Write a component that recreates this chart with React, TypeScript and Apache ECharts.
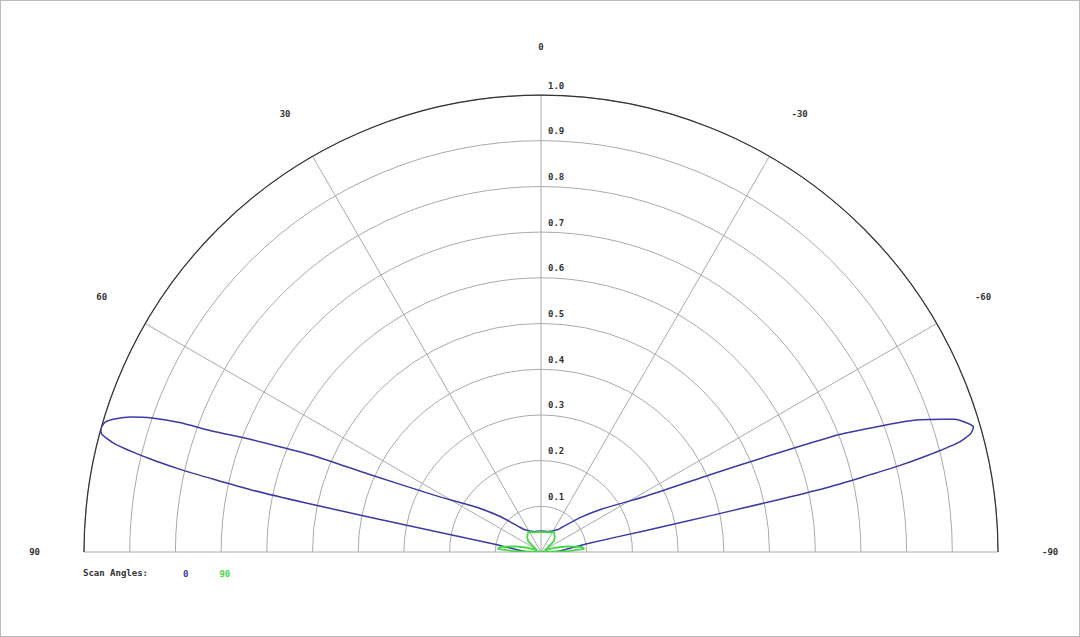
import { useEffect, useRef } from "react"
import * as echarts from "echarts"

// scan angle names (legend)
const scanNames = ["0", "90"]
const scanColors = ["#3a3aa6", "#44d844"]

// pattern for scan angle 0: angle (deg, +left) and relative gain
const scan0Angles = [
  90, 85, 80.3, 79, 78.5, 78.2, 77.9, 77.5, 77.1, 76.6, 75.8, 75, 74.4, 73.4, 72.6, 71.8, 71, 70.3,
  69.8, 68.9, 68, 67, 65.7, 62, 55, 48.8, 40, 36, 20, 0,
  -20, -36, -40, -48.8, -55, -62, -65.5, -67, -68.5, -69.9, -70.6, -71.2, -72.2, -73.2, -73.9,
  -74.6, -75.3, -76, -76.5, -76.9, -77.3, -77.6, -77.9, -78.4, -79.8, -85, -90,
]
const scan0Gain = [
  0.03, 0.05, 0.105, 0.24, 0.39, 0.53, 0.65, 0.73, 0.81, 0.88, 0.96, 0.995, 1.0, 0.995, 0.975, 0.945, 0.9, 0.84,
  0.765, 0.69, 0.612, 0.535, 0.415, 0.265, 0.17, 0.117, 0.07, 0.06, 0.048, 0.046,
  0.048, 0.06, 0.07, 0.115, 0.165, 0.26, 0.41, 0.53, 0.7, 0.815, 0.87, 0.9, 0.95, 0.975, 0.985,
  0.975, 0.945, 0.87, 0.8, 0.72, 0.64, 0.52, 0.385, 0.235, 0.1, 0.05, 0.03,
]

// pattern for scan angle 90
const scan90Angles = [
  90, 88, 86, 83, 78, 72, 65, 58, 50, 42, 33, 20, 0,
  -20, -33, -42, -50, -58, -65, -72, -78, -83, -86, -88, -90,
]
const scan90Gain = [
  0, 0.06, 0.095, 0.09, 0.06, 0.03, 0.01, 0.015, 0.037, 0.045, 0.052, 0.046, 0.044,
  0.046, 0.052, 0.045, 0.037, 0.015, 0.01, 0.03, 0.06, 0.09, 0.095, 0.06, 0,
]

const angleMin = -90
const angleMax = 90
const angleStep = 30
const radiusMax = 1
const radiusStep = 0.1

export default function App() {
  const chartRef = useRef<HTMLDivElement>(null)

  useEffect(() => {
    if (!chartRef.current) return
    const chart = echarts.init(chartRef.current, undefined, { renderer: "svg" })

    const font = {
      fontFamily: "'DejaVu Sans Mono', 'Liberation Mono', monospace",
      fontSize: 9,
      fontWeight: "bold" as const,
      color: "#333",
    }
    const center = [540, 551]
    const radius = 457

    const toPairs = (angles: number[], gain: number[]) => angles.map((a, i) => [gain[i], a])

    chart.setOption({
      animation: false,
      backgroundColor: "#fff",
      polar: [
        { center, radius },
        { center, radius },
      ],
      angleAxis: [
        {
          polarIndex: 0,
          type: "value",
          min: angleMin,
          max: angleMax,
          interval: angleStep,
          startAngle: 0,
          endAngle: 180,
          clockwise: false,
          axisLine: { lineStyle: { color: "#333", width: 1.2 } },
          axisTick: { show: false },
          axisLabel: { ...font, margin: 44 },
          splitLine: { lineStyle: { color: "#aaa", width: 1 } },
        },
        {
          polarIndex: 1,
          type: "value",
          min: 0,
          max: 360,
          startAngle: 90,
          axisLine: { show: false },
          axisTick: { show: false },
          axisLabel: { show: false },
          splitLine: { show: false },
        },
      ],
      radiusAxis: [
        {
          polarIndex: 0,
          min: 0,
          max: radiusMax,
          interval: radiusStep,
          axisLine: { show: false },
          axisTick: { show: false },
          axisLabel: { show: false },
          splitLine: { lineStyle: { color: "#aaa", width: 1 } },
        },
        {
          polarIndex: 1,
          min: 0,
          max: radiusMax,
          interval: radiusStep,
          axisLine: { show: false },
          axisTick: { show: false },
          splitLine: { show: false },
          axisLabel: {
            ...font,
            showMinLabel: false,
            formatter: (v: number) => v.toFixed(1),
            align: "left",
            verticalAlign: "bottom",
            margin: -7,
            padding: [0, 0, 5, 0],
          },
        },
      ],
      legend: {
        left: 172,
        top: 563,
        icon: "none",
        itemWidth: 0,
        itemHeight: 0,
        itemGap: 26,
        textStyle: font,
        data: scanNames.map((n, i) => ({ name: n, textStyle: { color: scanColors[i] } })),
      },
      graphic: [
        {
          type: "text",
          left: 82,
          top: 567,
          style: { text: "Scan Angles:", ...font, fill: "#333", font: undefined },
        },
      ],
      series: [
        {
          name: scanNames[0],
          type: "line",
          coordinateSystem: "polar",
          polarIndex: 0,
          showSymbol: false,
          smooth: 0.2,
          lineStyle: { color: scanColors[0], width: 1.5 },
          itemStyle: { color: scanColors[0] },
          data: toPairs(scan0Angles, scan0Gain),
        },
        {
          name: scanNames[1],
          type: "line",
          coordinateSystem: "polar",
          polarIndex: 0,
          showSymbol: false,
          lineStyle: { color: scanColors[1], width: 1.8 },
          itemStyle: { color: scanColors[1] },
          data: toPairs(scan90Angles, scan90Gain),
        },
      ],
    })

    return () => {
      chart.dispose()
    }
  }, [])

  return (
    <div
      ref={chartRef}
      style={{
        position: "absolute",
        left: 0,
        top: 0,
        width: 1080,
        height: 637,
        boxSizing: "border-box",
        border: "1px solid #bbb",
      }}
    />
  )
}
